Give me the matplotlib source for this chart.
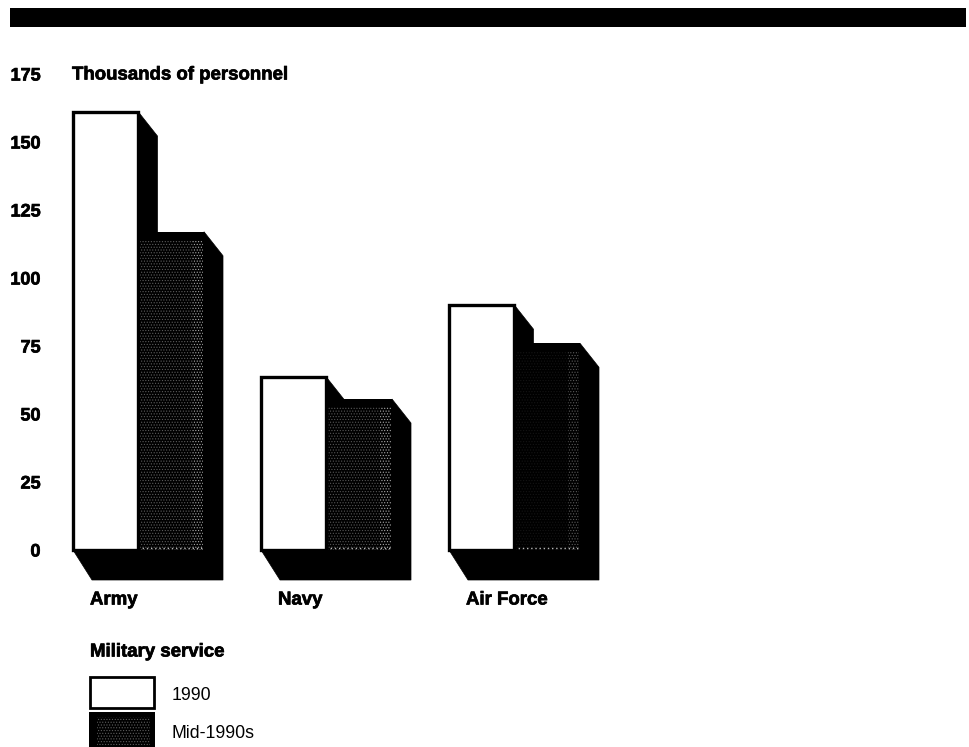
import matplotlib
matplotlib.use("Agg")
import matplotlib.pyplot as plt
import matplotlib.patheffects as pe
from matplotlib.patches import Rectangle, Polygon

plt.rcParams['font.family'] = ['Liberation Sans', 'DejaVu Sans']

services = ["Army", "Navy", "Air Force"]
values_1990 = [161, 63.5, 90]
values_mid = [117, 55.5, 76]
mid_hatch_colors = ["#5c5c5c", "#555555", "#141414"]
mid_edge_colors = ["#a8a8a8", "#a8a8a8", "#5a5a5a"]
y_ticks = [0, 25, 50, 75, 100, 125, 150, 175]
legend_title = "Military service"
legend_labels = ["1990", "Mid-1990s"]
y_title = "Thousands of personnel"

W, H = 970, 747
PX = 2.72            # pixels per thousand
BASE = 550           # baseline pixel row
LEFTS = [73, 261, 449]
BW = 65.5
DX, DY_TOP, DY_FLOOR = 19, 24, 30
TOP_GAP = 8 / PX     # plain black strip at the top of the stippled face
STRIP = 11           # width of the lighter stippled strip at the right

plt.rcParams['hatch.linewidth'] = 0.5
fig = plt.figure(figsize=(W / 100, H / 100), dpi=100, facecolor="white")
ax = fig.add_axes([60 / W, 0, (W - 60) / W, 1])
ax.set_xlim(60, W)
ax.set_ylim(-(H - BASE) / PX, BASE / PX)
for s in ax.spines.values():
    s.set_visible(False)
ax.set_xticks([])
ax.set_yticks(y_ticks)
ax.set_yticklabels([str(v) for v in y_ticks], fontsize=13, fontweight="bold")
ax.tick_params(axis="y", length=0, pad=14)
heavy = [pe.withStroke(linewidth=0.5, foreground="black")]
for lab in ax.get_yticklabels():
    lab.set_path_effects(heavy)


def v(px):
    return (BASE - px) / PX


fig.patches.append(Rectangle((10 / W, 1 - 27 / H), 956 / W, 19 / H, transform=fig.transFigure,
                             facecolor="black", edgecolor="none"))

dyt, dyf = DY_TOP / PX, DY_FLOOR / PX
for i, name in enumerate(services):
    x0 = LEFTS[i]
    x1 = x0 + BW
    x2 = x1 + BW
    a, b = values_1990[i], values_mid[i]
    # extruded side and floor
    ax.add_patch(Polygon([(x1, a), (x1 + DX, a - dyt), (x1 + DX, 0), (x1, 0)],
                         closed=True, fc="black", ec="black", lw=0.5, zorder=1))
    ax.add_patch(Polygon([(x2, b), (x2 + DX, b - dyt), (x2 + DX, -dyf), (x0 + DX, -dyf), (x0, 0), (x2, 0)],
                         closed=True, fc="black", ec="black", lw=0.5, zorder=1))
    # stippled front face
    ax.bar(x1 + BW / 2, b, width=BW, color="black", linewidth=0, zorder=2)
    ax.bar(x1 + (BW - STRIP) / 2, b - TOP_GAP, width=BW - STRIP, color="black", hatch="......",
           edgecolor=mid_hatch_colors[i], linewidth=0, zorder=2)
    ax.bar(x2 - STRIP / 2 - 1, b - TOP_GAP, width=STRIP, color="black", hatch="......",
           edgecolor=mid_edge_colors[i], linewidth=0, zorder=2)
    ax.plot([x1, x2], [0.6, 0.6], color="#b8b8b8", lw=1, ls=(0, (1, 2)), zorder=3)
    # white front face
    ax.bar(x0 + BW / 2, a, width=BW, color="white", edgecolor="black", linewidth=2.4, zorder=4)
    ax.text(x0 + 17, v(600), name, fontsize=13.4, fontweight="bold", ha="left", va="center",
            path_effects=heavy)

ax.text(72, v(75), y_title, fontsize=13.4, fontweight="bold", ha="left", va="center", path_effects=heavy)
ax.text(90, v(652), legend_title, fontsize=13.4, fontweight="bold", ha="left", va="center", path_effects=heavy)

ax.add_patch(Rectangle((90, v(708)), 64, 31 / PX, fc="white", ec="black", lw=2))
ax.add_patch(Rectangle((89, v(747)), 66, 35 / PX, fc="black", ec="none"))
ax.add_patch(Rectangle((97, v(745)), 53, 28 / PX, fc="black", ec="#5c5c5c", lw=0, hatch="......"))
ax.text(172, v(695), legend_labels[0], fontsize=12.8, ha="left", va="center", color="black")
ax.text(172, v(733), legend_labels[1], fontsize=12.8, ha="left", va="center", color="black")

fig.savefig("out.png", dpi=100)
